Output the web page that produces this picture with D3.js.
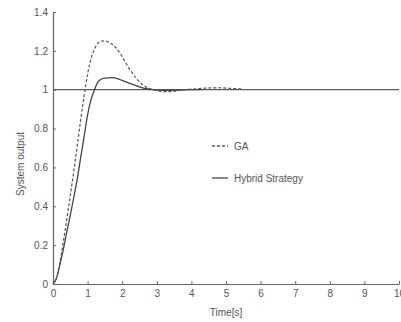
<!DOCTYPE html>
<html>
<head>
<meta charset="utf-8">
<script src="https://cdn.jsdelivr.net/npm/d3@7"></script>
<style>
  body { margin: 0; background: #fff; }
  text { font-family: "Liberation Sans", Arial, sans-serif; }
</style>
</head>
<body>
<div id="chart"></div>
<script>
var width = 401, height = 322;
var margin = { left: 53, right: 2, top: 12, bottom: 38 };

var xTicks = [0, 1, 2, 3, 4, 5, 6, 7, 8, 9, 10];
var yTicks = [0, 0.2, 0.4, 0.6, 0.8, 1, 1.2, 1.4];

// GA response (dashed)
var gaTime = [0, 0.1, 0.2, 0.3, 0.4, 0.5, 0.6, 0.7, 0.8, 0.9, 1.0, 1.1, 1.2, 1.3, 1.4, 1.5, 1.6, 1.8, 2.0, 2.2, 2.4, 2.6, 2.8, 3.0, 3.2, 3.4, 3.6, 3.8, 4.0, 4.4, 4.8, 5.2, 5.5];
var gaValue = [0, 0.03, 0.11, 0.22, 0.335, 0.455, 0.58, 0.71, 0.845, 0.97, 1.08, 1.16, 1.21, 1.24, 1.25, 1.252, 1.245, 1.22, 1.17, 1.11, 1.06, 1.025, 1.005, 0.995, 0.99, 0.99, 0.995, 1.0, 1.003, 1.008, 1.01, 1.006, 1.004];

// Hybrid strategy response (solid)
var hyTime = [0, 0.1, 0.2, 0.3, 0.4, 0.5, 0.6, 0.7, 0.8, 0.9, 1.0, 1.1, 1.2, 1.3, 1.4, 1.5, 1.7, 1.9, 2.1, 2.3, 2.5, 2.7, 2.9, 3.2, 3.6, 4.0, 4.3];
var hyValue = [0, 0.03, 0.1, 0.18, 0.27, 0.355, 0.445, 0.54, 0.65, 0.76, 0.87, 0.95, 1.0, 1.04, 1.055, 1.06, 1.062, 1.055, 1.04, 1.028, 1.015, 1.005, 1.0, 0.997, 0.998, 1.0, 1.0];

var legendLabels = ["GA", "Hybrid Strategy"];

var svg = d3.select('#chart').append('svg')
    .attr('width', width)
    .attr('height', height);

var x = d3.scaleLinear().domain([0, 10]).range([margin.left, width - margin.right]);
var y = d3.scaleLinear().domain([0, 1.4]).range([height - margin.bottom, margin.top]);

var axisColor = '#666';
var textColor = '#555';

// reference line at 1
svg.append('line')
    .attr('x1', x(0)).attr('x2', x(10))
    .attr('y1', y(1)).attr('y2', y(1))
    .attr('stroke', '#333')
    .attr('stroke-width', 1);

var fmt = function(d) { return d3.format('~g')(d); };

var xAxis = svg.append('g')
    .attr('transform', 'translate(0,' + y(0) + ')')
    .call(d3.axisBottom(x).tickValues(xTicks).tickFormat(fmt)
        .tickSizeInner(-3).tickSizeOuter(0).tickPadding(6));

var yAxis = svg.append('g')
    .attr('transform', 'translate(' + x(0) + ',0)')
    .call(d3.axisLeft(y).tickValues(yTicks).tickFormat(fmt)
        .tickSizeInner(-3).tickSizeOuter(0).tickPadding(5));

[xAxis, yAxis].forEach(function(a) {
    a.select('.domain').attr('stroke', axisColor).attr('stroke-width', 1.2);
    a.selectAll('.tick line').attr('stroke', axisColor);
    a.selectAll('.tick text')
        .attr('fill', textColor)
        .style('font-size', '10px')
        .style('font-family', '"Liberation Sans", Arial, sans-serif');
});

var line = d3.line()
    .x(function(d) { return x(d[0]); })
    .y(function(d) { return y(d[1]); })
    .curve(d3.curveMonotoneX);

var gaData = d3.zip(gaTime, gaValue);
var hyData = d3.zip(hyTime, hyValue);

svg.append('path')
    .datum(hyData)
    .attr('d', line)
    .attr('fill', 'none')
    .attr('stroke', '#444')
    .attr('stroke-width', 1.3);

svg.append('path')
    .datum(gaData)
    .attr('d', line)
    .attr('fill', 'none')
    .attr('stroke', '#555')
    .attr('stroke-width', 1.2)
    .attr('stroke-dasharray', '3,2');

// axis titles
svg.append('text')
    .attr('x', x(5))
    .attr('y', 316)
    .attr('text-anchor', 'middle')
    .attr('fill', textColor)
    .style('font-size', '10px')
    .text('Time[s]');

svg.append('text')
    .attr('transform', 'translate(24,' + 164 + ') rotate(-90)')
    .attr('text-anchor', 'middle')
    .attr('fill', textColor)
    .style('font-size', '10px')
    .text('System output');

// legend
var legendY = [146, 178];
legendLabels.forEach(function(label, i) {
    svg.append('line')
        .attr('x1', 212).attr('x2', 228)
        .attr('y1', legendY[i]).attr('y2', legendY[i])
        .attr('stroke', i === 0 ? '#555' : '#444')
        .attr('stroke-width', 1.3)
        .attr('stroke-dasharray', i === 0 ? '3,2' : null);
    svg.append('text')
        .attr('x', 234)
        .attr('y', legendY[i] + 3.5)
        .attr('fill', textColor)
        .style('font-size', '10px')
        .text(label);
});
</script>
</body>
</html>
